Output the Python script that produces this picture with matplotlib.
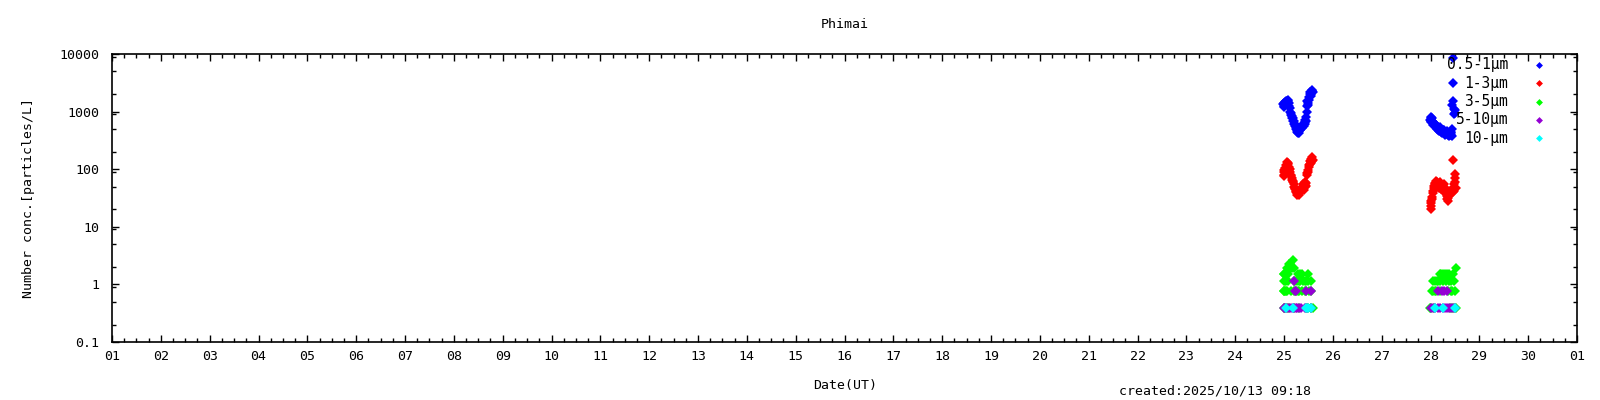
import matplotlib
matplotlib.use('Agg')
from matplotlib import pyplot as plt
from matplotlib.ticker import FixedLocator, NullFormatter

# 0.5-1um
pm05_day = [24.98, 24.99, 25.00, 25.01, 25.02, 25.03, 25.04, 25.05, 25.06, 25.07, 25.08, 25.09,
            25.10, 25.11, 25.12, 25.13, 25.14, 25.15, 25.16, 25.17, 25.18, 25.19, 25.20, 25.21,
            25.22, 25.23, 25.24, 25.25, 25.26, 25.27, 25.28, 25.29, 25.30, 25.31, 25.32, 25.33,
            25.34, 25.35, 25.36, 25.37, 25.38, 25.39, 25.40, 25.41, 25.42, 25.43, 25.44, 25.45,
            25.46, 25.47, 25.47, 25.48, 25.49, 25.50, 25.51, 25.52, 25.53, 25.54, 25.55, 25.56,
            25.57, 25.58, 25.59,
            27.99, 28.00, 28.00, 28.01, 28.02, 28.03, 28.04, 28.05, 28.06, 28.07, 28.08, 28.09,
            28.10, 28.11, 28.12, 28.13, 28.14, 28.15, 28.16, 28.17, 28.18, 28.19, 28.20, 28.21,
            28.22, 28.23, 28.24, 28.25, 28.26, 28.27, 28.28, 28.29, 28.30, 28.31, 28.32, 28.33,
            28.34, 28.35, 28.36, 28.37, 28.38, 28.39, 28.40, 28.41, 28.42, 28.43, 28.44, 28.45,
            28.45, 28.46, 28.46, 28.47, 28.48, 28.49, 28.50, 28.51]
pm05_val = [1350, 1200, 1250, 1400, 1450, 1300, 1350, 1500, 1550, 1400, 1600, 1500,
            1400, 1250, 1150, 1000, 950, 880, 850, 780, 760, 700, 680, 620,
            600, 560, 540, 500, 480, 450, 450, 420, 430, 460, 470, 500,
            520, 540, 560, 520, 600, 580, 620, 560, 650, 600, 720, 680,
            800, 1000, 1250, 1500, 1300, 1400, 1600, 1800, 2000, 2200, 1900, 2000,
            2300, 2400, 2200,
            720, 650, 800, 680, 780, 760, 700, 650, 580, 600, 640, 620,
            560, 580, 540, 560, 500, 520, 480, 500, 460, 530, 470, 490,
            450, 470, 430, 450, 470, 480, 420, 440, 400, 420, 440, 460,
            410, 430, 390, 410, 380, 400, 420, 450, 400, 420, 380, 500,
            1300, 3100, 8500, 1500, 1100, 900, 950, 1050]

# 1-3um
pm1_day = [24.99, 25.00, 25.00, 25.01, 25.02, 25.03, 25.04, 25.05, 25.06, 25.07, 25.08, 25.09,
           25.10, 25.11, 25.12, 25.13, 25.14, 25.15, 25.16, 25.17, 25.18, 25.19, 25.20, 25.21,
           25.22, 25.23, 25.24, 25.25, 25.26, 25.27, 25.28, 25.29, 25.30, 25.31, 25.32, 25.33,
           25.34, 25.35, 25.36, 25.37, 25.38, 25.39, 25.40, 25.41, 25.42, 25.43, 25.44, 25.45,
           25.46, 25.47, 25.48, 25.49, 25.50, 25.51, 25.52, 25.53, 25.54, 25.55, 25.56, 25.57,
           25.58, 25.59,
           28.00, 28.00, 28.01, 28.02, 28.03, 28.04, 28.05, 28.06, 28.07, 28.08, 28.09, 28.10,
           28.11, 28.12, 28.13, 28.14, 28.15, 28.16, 28.17, 28.18, 28.19, 28.20, 28.21, 28.22,
           28.23, 28.24, 28.25, 28.26, 28.27, 28.28, 28.29, 28.30, 28.31, 28.32, 28.33, 28.34,
           28.35, 28.36, 28.37, 28.38, 28.39, 28.40, 28.41, 28.42, 28.43, 28.44, 28.45, 28.46,
           28.47, 28.48, 28.49, 28.50, 28.51, 28.51, 28.52]
pm1_val = [80, 75, 90, 95, 88, 105, 100, 120, 115, 135, 125, 130,
           110, 95, 100, 88, 80, 75, 70, 65, 60, 62, 55, 50,
           48, 45, 42, 40, 38, 36, 40, 42, 36, 38, 40, 44,
           45, 42, 50, 44, 48, 55, 44, 52, 55, 60, 50, 58,
           52, 85, 80, 95, 90, 120, 110, 140, 125, 130, 150, 160,
           140, 145,
           20, 23, 26, 28, 33, 30, 42, 38, 52, 48, 58, 56,
           50, 62, 55, 60, 55, 50, 48, 56, 60, 52, 48, 45,
           52, 50, 46, 42, 50, 55, 45, 48, 40, 38, 34, 30,
           32, 28, 34, 35, 40, 42, 38, 38, 42, 45, 40, 145,
           40, 42, 55, 70, 82, 60, 48]

# 3-5um
pm3_day = [24.99, 25.02, 25.06, 25.10, 25.20, 25.30, 25.45, 25.50, 25.55, 25.59,
           24.99, 25.01, 25.03, 25.05, 25.07, 25.15, 25.20, 25.25, 25.28, 25.31, 25.37, 25.42,
           25.46, 25.52, 25.56,
           25.00, 25.02, 25.04, 25.08, 25.20, 25.23, 25.26, 25.30, 25.33, 25.38, 25.42, 25.46,
           25.50, 25.55,
           24.99, 25.01, 25.04, 25.07, 25.09, 25.29, 25.32, 25.36, 25.50,
           25.07, 25.10, 25.13, 25.16, 25.20,
           25.10, 25.13,
           25.18,
           27.99, 28.02, 28.07, 28.40, 28.45, 28.49, 28.52,
           28.03, 28.06, 28.09, 28.12, 28.20, 28.36, 28.41, 28.45, 28.50,
           28.05, 28.09, 28.13, 28.16, 28.20, 28.25, 28.31, 28.37, 28.42, 28.48,
           28.19, 28.22, 28.26, 28.29, 28.33, 28.38, 28.47,
           28.52]
pm3_val = [0.385] * 10 + [0.77] * 15 + [1.15] * 14 + [1.54] * 9 + [1.92] * 5 + [2.3] * 2 + [2.7] \
    + [0.385] * 7 + [0.77] * 9 + [1.15] * 10 + [1.54] * 7 + [1.92]

# 5-10um
pm5_day = [24.99, 25.03, 25.06, 25.10, 25.14, 25.18, 25.21, 25.24, 25.27, 25.30, 25.34, 25.42,
           25.48, 25.55, 25.23, 25.25, 25.45, 25.56, 25.20,
           28.01, 28.05, 28.10, 28.15, 28.20, 28.25, 28.30, 28.34, 28.38, 28.42, 28.46, 28.50,
           28.16, 28.24, 28.28, 28.33]
pm5_val = [0.385] * 14 + [0.77] * 4 + [1.15] + [0.385] * 12 + [0.77] * 4

# 10-um
pm10_day = [25.04, 25.19, 25.46, 25.50, 25.55, 28.10, 28.26, 28.50]
pm10_val = [0.385] * 8

labels = ['0.5-1μm', '1-3μm', '3-5μm', '5-10μm', '10-μm']
colors = ['#0000ff', '#ff0000', '#00ff00', '#9400d3', '#00ffff']

days = list(range(1, 32))
day_labels = ['%02d' % d for d in range(1, 31)] + ['01']

fs = 9.5
plt.rcParams['font.family'] = ['DejaVu Sans Mono', 'Noto Sans CJK JP']

fig = plt.figure(figsize=(16, 4), dpi=100)
ax = fig.add_axes([112 / 1600, 58 / 400, 1465 / 1600, 288 / 400])

series = [(pm05_day, pm05_val), (pm1_day, pm1_val), (pm3_day, pm3_val),
          (pm5_day, pm5_val), (pm10_day, pm10_val)]
for (x, y), c in zip(series, colors):
    ax.plot(x, y, linestyle='none', marker='D', markersize=5, color=c, markeredgewidth=0)

ax.set_yscale('log')
ax.set_ylim(0.1, 10000)
ax.set_xlim(1, 31)

ax.set_xticks(days)
ax.set_xticklabels(day_labels, fontsize=fs)
ax.xaxis.set_minor_locator(FixedLocator([d + q / 4 for d in range(1, 31) for q in (1, 2, 3)]))
ax.set_yticks([0.1, 1, 10, 100, 1000, 10000])
ax.set_yticklabels(['0.1', '1', '10', '100', '1000', '10000'], fontsize=fs)
ax.yaxis.set_minor_locator(FixedLocator([m * 10.0 ** e for e in range(-1, 4) for m in (2, 5, 9)]))
ax.yaxis.set_minor_formatter(NullFormatter())

ax.tick_params(which='both', direction='in', top=True, right=True, width=1)
ax.tick_params(which='major', length=5)
ax.tick_params(which='minor', length=3)
ax.tick_params(axis='x', pad=6)
ax.tick_params(axis='y', pad=9)
for s in ax.spines.values():
    s.set_linewidth(1.2)

# legend like gnuplot: label right aligned, point on the right
for i, (lab, c) in enumerate(zip(labels, colors)):
    yy = 0.962 - i * 0.0635
    ax.text(0.953, yy, lab, transform=ax.transAxes, ha='right', va='center', fontsize=10.5)
    ax.plot([0.974], [yy], transform=ax.transAxes, marker='D', markersize=3.5,
            color=c, markeredgewidth=0, clip_on=False)

fig.text(845 / 1600, 1 - 24 / 400, 'Phimai', ha='center', va='center', fontsize=fs)
fig.text(845 / 1600, 1 - 386 / 400, 'Date(UT)', ha='center', va='center', fontsize=fs)
fig.text(29 / 1600, 1 - 198 / 400, 'Number conc.[particles/L]', ha='center', va='center',
         rotation=90, fontsize=fs)
fig.text(1119 / 1600, 1 - 391 / 400, 'created:2025/10/13 09:18', ha='left', va='center', fontsize=fs)

fig.savefig('out.png', dpi=100)
